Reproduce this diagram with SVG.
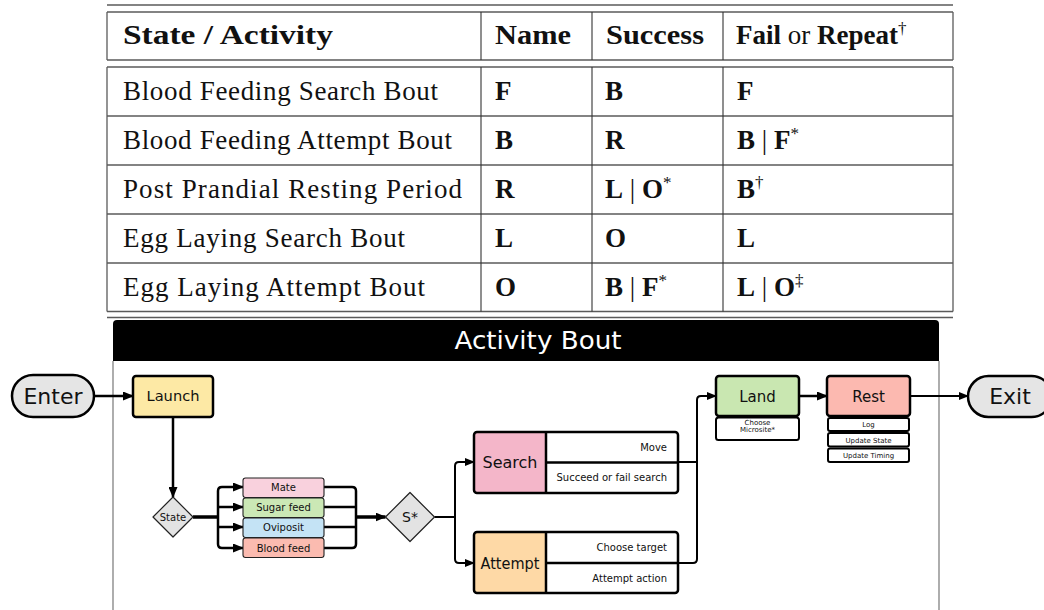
<svg xmlns="http://www.w3.org/2000/svg" width="1044" height="610" viewBox="0 0 1044 610">
<defs>
<marker id="arr" markerUnits="userSpaceOnUse" markerWidth="11" markerHeight="9" refX="10" refY="4.5" orient="auto">
<path d="M0,0 L11,4.5 L0,9 z" fill="#000"/>
</marker>
<marker id="arrs" markerUnits="userSpaceOnUse" markerWidth="10" markerHeight="8" refX="9" refY="4" orient="auto">
<path d="M0,0 L10,4 L0,8 z" fill="#000"/>
</marker>
<style>
.tl{stroke:#5a5a5a;stroke-width:1.3;fill:none}
.tv{stroke:#333;stroke-width:1.1;fill:none}
.tx{font-family:"Liberation Serif","DejaVu Serif",serif;font-size:27px;fill:#111}
.b{font-weight:bold}
.sup{font-size:17px}
.d{font-family:"DejaVu Sans","Liberation Sans",sans-serif;fill:#111}
.box{stroke:#000;stroke-width:2.5}
.sbox{stroke:#222;stroke-width:1.1}
.c{fill:none;stroke:#000;stroke-width:2.5}
.c2{fill:none;stroke:#000;stroke-width:2}
.frame{stroke:#777;stroke-width:1.2;fill:none}
</style>
</defs>
<rect width="1044" height="610" fill="#fff"/>
<g id="table">
<line class="tl" x1="107" y1="5" x2="953" y2="5"/>
<line class="tl" x1="107" y1="12" x2="953" y2="12"/>
<line class="tl" x1="107" y1="60" x2="953" y2="60"/>
<line class="tl" x1="107" y1="67" x2="953" y2="67"/>
<line class="tl" x1="107" y1="116" x2="953" y2="116"/>
<line class="tl" x1="107" y1="165" x2="953" y2="165"/>
<line class="tl" x1="107" y1="214" x2="953" y2="214"/>
<line class="tl" x1="107" y1="263" x2="953" y2="263"/>
<line class="tl" x1="107" y1="311.5" x2="953" y2="311.5"/>
<line class="tl" x1="107" y1="317.5" x2="953" y2="317.5"/>
<line class="tl" x1="107" y1="12" x2="107" y2="60"/>
<line class="tl" x1="953" y1="12" x2="953" y2="60"/>
<line class="tl" x1="107" y1="67" x2="107" y2="311.5"/>
<line class="tl" x1="953" y1="67" x2="953" y2="311.5"/>
<line class="tv" x1="481" y1="12" x2="481" y2="60"/>
<line class="tv" x1="592" y1="12" x2="592" y2="60"/>
<line class="tv" x1="723" y1="12" x2="723" y2="60"/>
<line class="tv" x1="481" y1="67" x2="481" y2="311.5"/>
<line class="tv" x1="592" y1="67" x2="592" y2="311.5"/>
<line class="tv" x1="723" y1="67" x2="723" y2="311.5"/>
<text class="tx b" x="123" y="44" textLength="210" lengthAdjust="spacingAndGlyphs">State / Activity</text>
<text class="tx b" x="495" y="44" textLength="76" lengthAdjust="spacingAndGlyphs">Name</text>
<text class="tx b" x="606" y="44" textLength="98" lengthAdjust="spacingAndGlyphs">Success</text>
<text class="tx" x="736" y="44"><tspan class="b">Fail</tspan> or <tspan class="b">Repeat</tspan><tspan class="sup" dy="-10">†</tspan></text>
<text class="tx" x="123" y="99.5" textLength="315" lengthAdjust="spacing">Blood Feeding Search Bout</text>
<text class="tx" x="123" y="148.5" textLength="329" lengthAdjust="spacing">Blood Feeding Attempt Bout</text>
<text class="tx" x="123" y="197.5" textLength="339" lengthAdjust="spacing">Post Prandial Resting Period</text>
<text class="tx" x="123" y="246.5" textLength="282" lengthAdjust="spacing">Egg Laying Search Bout</text>
<text class="tx" x="123" y="295.5" textLength="302" lengthAdjust="spacing">Egg Laying Attempt Bout</text>
<text class="tx b" x="495" y="99.5">F</text>
<text class="tx b" x="495" y="148.5">B</text>
<text class="tx b" x="495" y="197.5">R</text>
<text class="tx b" x="495" y="246.5">L</text>
<text class="tx b" x="495" y="295.5">O</text>
<text class="tx b" x="605" y="99.5">B</text>
<text class="tx b" x="605" y="148.5">R</text>
<text class="tx" x="605" y="197.5"><tspan class="b">L</tspan> | <tspan class="b">O</tspan><tspan class="sup" dy="-10">*</tspan></text>
<text class="tx b" x="605" y="246.5">O</text>
<text class="tx" x="605" y="295.5"><tspan class="b">B</tspan> | <tspan class="b">F</tspan><tspan class="sup" dy="-10">*</tspan></text>
<text class="tx b" x="737" y="99.5">F</text>
<text class="tx" x="737" y="148.5"><tspan class="b">B</tspan> | <tspan class="b">F</tspan><tspan class="sup" dy="-10">*</tspan></text>
<text class="tx" x="737" y="197.5"><tspan class="b">B</tspan><tspan class="sup" dy="-10">†</tspan></text>
<text class="tx b" x="737" y="246.5">L</text>
<text class="tx" x="737" y="295.5"><tspan class="b">L</tspan> | <tspan class="b">O</tspan><tspan class="sup" dy="-10">‡</tspan></text>
</g>
<g id="frame">
<path d="M113,361 V324 Q113,320 117,320 H935 Q939,320 939,324 V361 Z" fill="#000"/>
<line class="frame" x1="113" y1="361" x2="113" y2="611"/>
<line class="frame" x1="939" y1="361" x2="939" y2="611"/>
<text class="d" x="538" y="349" font-size="25" text-anchor="middle" fill="#fff" style="fill:#fff" textLength="167" lengthAdjust="spacingAndGlyphs">Activity Bout</text>
</g>
<g id="connectors">
<line class="c" x1="94" y1="396" x2="133" y2="396" marker-end="url(#arr)"/>
<line class="c" x1="173" y1="417" x2="173" y2="497" marker-end="url(#arr)"/>
<line fill="none" stroke="#000" stroke-width="3.5" x1="193" y1="517" x2="218" y2="517"/>
<path class="c" d="M218,517 V491 Q218,487 222,487 H243" marker-end="url(#arr)"/>
<path class="c" d="M218,517 V544 Q218,548 222,548 H243" marker-end="url(#arr)"/>
<path class="c" d="M218,507 H243" marker-end="url(#arr)"/>
<path class="c" d="M218,527 H243" marker-end="url(#arr)"/>
<path class="c" d="M324,487 H352 Q356,487 356,491 V544 Q356,548 352,548 H324"/>
<path class="c" d="M324,507 H356 M324,527 H356"/>
<line fill="none" stroke="#000" stroke-width="3.5" x1="356" y1="517" x2="385.5" y2="517" marker-end="url(#arr)"/>
<line class="c2" x1="434.5" y1="517" x2="455" y2="517"/>
<path class="c2" d="M455,517 V466 Q455,462 459,462 H474" marker-end="url(#arrs)"/>
<path class="c2" d="M455,517 V559 Q455,563 459,563 H474" marker-end="url(#arrs)"/>
<line class="c2" x1="678" y1="462" x2="697" y2="462"/>
<path class="c2" d="M678,563 H693 Q697,563 697,559 V400 Q697,396 701,396 H716" marker-end="url(#arrs)"/>
<line class="c" x1="799" y1="396" x2="827" y2="396" marker-end="url(#arr)"/>
<line class="c2" x1="910" y1="396" x2="968" y2="396" marker-end="url(#arrs)"/>
</g>
<g id="node-enter">
<rect class="box" x="12" y="375" width="82" height="42" rx="21" fill="#e5e5e5"/>
<text class="d" x="53" y="404" font-size="22" text-anchor="middle">Enter</text>
</g>
<g id="node-launch">
<rect class="box" x="133" y="376" width="80" height="41" rx="3" fill="#fde9a5"/>
<text class="d" x="173" y="401" font-size="14" text-anchor="middle" textLength="53" lengthAdjust="spacingAndGlyphs">Launch</text>
</g>
<g id="node-state">
<polygon points="173,497 193,517 173,537 153,517" fill="#e3e3e3" stroke="#222" stroke-width="1.2" stroke-linejoin="round"/>
<text class="d" x="173" y="520.5" font-size="10" text-anchor="middle">State</text>
</g>
<g id="node-mate">
<rect class="sbox" x="243" y="478" width="81" height="19.5" rx="2.5" fill="#f9d1dd"/>
<text class="d" x="283.5" y="491" font-size="10" text-anchor="middle">Mate</text>
</g>
<g id="node-sugar">
<rect class="sbox" x="243" y="498" width="81" height="19.5" rx="2.5" fill="#cbe8b5"/>
<text class="d" x="283.5" y="511" font-size="10" text-anchor="middle">Sugar feed</text>
</g>
<g id="node-oviposit">
<rect class="sbox" x="243" y="518" width="81" height="19.5" rx="2.5" fill="#c4e3f5"/>
<text class="d" x="283.5" y="531" font-size="10" text-anchor="middle">Oviposit</text>
</g>
<g id="node-blood">
<rect class="sbox" x="243" y="538" width="81" height="19.5" rx="2.5" fill="#fbbbb0"/>
<text class="d" x="283.5" y="551.5" font-size="10" text-anchor="middle">Blood feed</text>
</g>
<g id="node-s">
<polygon points="410,492.5 434.5,517 410,541.5 385.5,517" fill="#e3e3e3" stroke="#222" stroke-width="1.2" stroke-linejoin="round"/>
<text class="d" x="410" y="522" font-size="14" text-anchor="middle">S*</text>
</g>
<g id="node-search">
<rect x="474" y="432" width="204" height="61" rx="3" fill="#fff"/>
<rect x="474" y="432" width="72" height="61" rx="3" fill="#f4b6c9"/>
<line x1="546" y1="432" x2="546" y2="493" stroke="#000" stroke-width="2.5"/>
<line x1="546" y1="462.5" x2="678" y2="462.5" stroke="#000" stroke-width="2.5"/>
<rect class="box" x="474" y="432" width="204" height="61" rx="3" fill="none"/>
<text class="d" x="510" y="468" font-size="16" text-anchor="middle">Search</text>
<text class="d" x="667" y="450.5" font-size="10" text-anchor="end">Move</text>
<text class="d" x="667" y="481" font-size="10" text-anchor="end">Succeed or fail search</text>
</g>
<g id="node-attempt">
<rect x="474" y="532" width="204" height="61" rx="3" fill="#fff"/>
<rect x="474" y="532" width="72" height="61" rx="3" fill="#fed9a6"/>
<line x1="546" y1="532" x2="546" y2="593" stroke="#000" stroke-width="2.5"/>
<line x1="546" y1="563" x2="678" y2="563" stroke="#000" stroke-width="2.5"/>
<rect class="box" x="474" y="532" width="204" height="61" rx="3" fill="none"/>
<text class="d" x="510" y="568.5" font-size="15" text-anchor="middle" textLength="59" lengthAdjust="spacingAndGlyphs">Attempt</text>
<text class="d" x="667" y="551" font-size="10" text-anchor="end">Choose target</text>
<text class="d" x="667" y="582" font-size="10" text-anchor="end">Attempt action</text>
</g>
<g id="node-land">
<rect class="box" x="716" y="376" width="83" height="40" rx="3" fill="#c9e7b1"/>
<text class="d" x="757.5" y="401.5" font-size="15" text-anchor="middle">Land</text>
<rect x="716" y="417.5" width="83" height="22.5" rx="2.5" fill="#fff" stroke="#000" stroke-width="2"/>
<text class="d" x="757.5" y="425" font-size="7" text-anchor="middle">Choose</text>
<text class="d" x="757.5" y="431.5" font-size="7" text-anchor="middle">Microsite*</text>
</g>
<g id="node-rest">
<rect class="box" x="827" y="376" width="83" height="40" rx="3" fill="#fcb9b0"/>
<text class="d" x="868.5" y="401.5" font-size="15" text-anchor="middle">Rest</text>
<rect x="828" y="418" width="81" height="13" rx="2" fill="#fff" stroke="#000" stroke-width="2"/>
<text class="d" x="868.5" y="427" font-size="7" text-anchor="middle">Log</text>
<rect x="828" y="433" width="81" height="13.5" rx="2" fill="#fff" stroke="#000" stroke-width="2"/>
<text class="d" x="868.5" y="442.5" font-size="7" text-anchor="middle">Update State</text>
<rect x="828" y="448.5" width="81" height="13.5" rx="2" fill="#fff" stroke="#000" stroke-width="2"/>
<text class="d" x="868.5" y="458" font-size="7" text-anchor="middle">Update Timing</text>
</g>
<g id="node-exit">
<rect class="box" x="968" y="376" width="84" height="41" rx="20.5" fill="#e5e5e5"/>
<text class="d" x="1010" y="404" font-size="22" text-anchor="middle">Exit</text>
</g>
</svg>
